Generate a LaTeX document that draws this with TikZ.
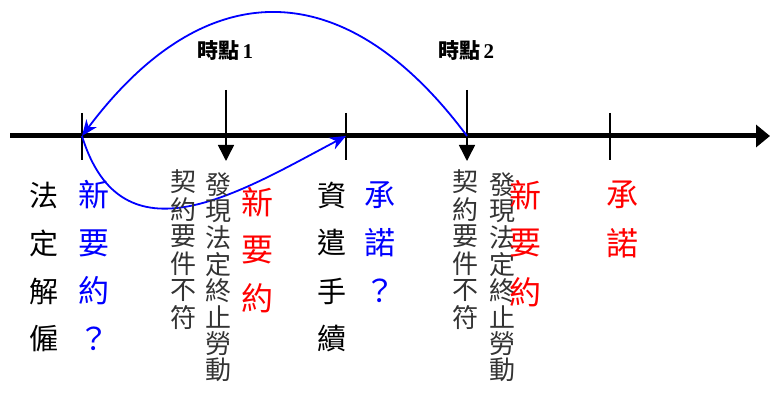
\documentclass[tikz,border=0pt]{standalone}
\usepackage{fontspec}
\newfontfamily\cjk{Noto Sans CJK TC}
\newfontfamily\tnr{Liberation Serif}
\usetikzlibrary{arrows.meta}
\newcommand\vcol[6]{%
  \foreach \ch [count=\i] in {#6}
    \node[#5] (#1\i) at (#2, {#3+(\i-1)*#4}) {\ch};}
\begin{document}
\begin{tikzpicture}[x=1pt,y=-1pt,
  vtxt/.style={inner sep=0pt, anchor=center},
  blk/.style={vtxt, text=black, font=\cjk\fontsize{29}{29}\selectfont},
  gry/.style={vtxt, text=black!80, font=\cjk\fontsize{26}{26}\selectfont},
  blu/.style={vtxt, text=blue, font=\cjk\fontsize{31}{31}\selectfont},
  rd/.style={vtxt, text=red, font=\cjk\fontsize{32}{32}\selectfont},
  tick/.style={line width=1.5pt, black},
  pointer/.style={line width=1.5pt, -{Triangle[length=16pt,width=16pt]}},
  jump/.style={blue, line width=1.8pt, -{Stealth[length=16pt,width=13pt,inset=5pt]}},
  lbl/.style={inner sep=0pt, font=\cjk\bfseries\fontsize{21}{21}\selectfont}]
\useasboundingbox (0,0) rectangle (770,398);
% axis
\coordinate (a0) at (10,136);
\coordinate (a1) at (770,136);
\draw[line width=5pt, -{Triangle[length=14pt,width=22pt]}] (a0) -- (a1);
% ticks
\coordinate (t1a) at (82,113); \coordinate (t1b) at (82,160);
\coordinate (t2a) at (346,113); \coordinate (t2b) at (346,160);
\coordinate (t3a) at (610,113); \coordinate (t3b) at (610,160);
\draw[tick] (t1a) -- (t1b);
\draw[tick] (t2a) -- (t2b);
\draw[tick] (t3a) -- (t3b);
% time points
\node[lbl] (tp1) at (225,51) {時點\,{\tnr\bfseries 1}};
\node[lbl] (tp2) at (466,51) {時點\,{\tnr\bfseries 2}};
\coordinate (p1a) at (226,90); \coordinate (p1b) at (226,161);
\coordinate (p2a) at (467,90); \coordinate (p2b) at (467,161);
\draw[pointer] (p1a) -- (p1b);
\draw[pointer] (p2a) -- (p2b);
% blue curves
\coordinate (o1) at (82,136);
\coordinate (o2) at (346,136);
\coordinate (o3) at (467,136);
\draw[jump] (o3) .. controls (345,-28) and (205,-28) .. (o1);
\draw[jump] (o1) .. controls (122,266) and (240,192) .. (o2);
% text columns
\vcol{fa}{44}{195}{48}{blk}{法,定,解,僱}
\vcol{xa}{94}{195}{48}{blu}{新,要,約,？}
\vcol{qa}{183}{182}{27.2}{gry}{契,約,要,件,不,符}
\vcol{fx}{218}{185}{26.4}{gry}{發,現,法,定,終,止,勞,動}
\vcol{ra}{257}{202}{48}{rd}{新,要,約}
\vcol{zq}{332}{195}{48}{blk}{資,遣,手,續}
\vcol{ch}{380}{195}{48}{blu}{承,諾,？}
\vcol{qb}{465}{182}{27.2}{gry}{契,約,要,件,不,符}
\vcol{fb}{502}{185}{26.4}{gry}{發,現,法,定,終,止,勞,動}
\vcol{rb}{525}{195}{48.5}{rd}{新,要,約}
\vcol{cr}{622}{195}{48}{rd}{承,諾}
\end{tikzpicture}
\end{document}
